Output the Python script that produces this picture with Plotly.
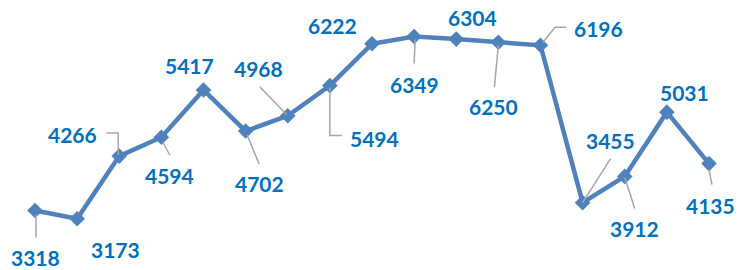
import plotly.graph_objects as go

# ---- data ----
categories = list(range(1, 18))
values = [3318, 3173, 4266, 4594, 5417, 4702, 4968, 5494, 6222,
          6349, 6304, 6250, 6196, 3455, 3912, 5031, 4135]
labels = [str(v) for v in values]

# ---- label placement (pixel offsets from the point: dx right, dy down) ----
label_dx = [0.5, 38, -47, 8, -14.5, 13.5, -29, 45, -39, 0, 16, -5, 58, 28, 10, 18, 2]
label_dy = [46.5, 31, -22, 38, -25, 52, -47, 53, -18, 47.5, -22, 64, -17, -62, 52, -20, 42]

# leader lines: list of pixel offset points (dx, dy-down) or None
leaders = [
    [(1, 4), (1, 27)],
    None,
    [(-13, -23), (-1, -23), (-1, -1)],
    [(1.5, 5), (8.5, 18)],
    None,
    [(1.5, 4), (13.5, 33)],
    [(-28, -29), (-1, -1)],
    [(0, 2), (0, 50), (12, 50)],
    None,
    [(1, 3), (0, 27)],
    None,
    [(0, 3), (-4, 45)],
    [(2.5, -3), (14.5, -18), (25.5, -18)],
    [(0, 0), (28, -44)],
    [(0, 1), (10, 32)],
    None,
    [(0, 6), (3, 21)],
]

LINE_COLOR = "#4F81BD"
LABEL_COLOR = "#0070C0"
LEADER_COLOR = "#A6A6A6"

fig = go.Figure()
fig.add_trace(go.Scatter(
    x=categories, y=values, mode="lines+markers",
    line=dict(color=LINE_COLOR, width=4.5),
    marker=dict(symbol="diamond", size=12, color=LINE_COLOR),
    hoverinfo="skip", showlegend=False,
))

annotations = []
shapes = []
for i, (c, v) in enumerate(zip(categories, values)):
    annotations.append(dict(
        x=c, y=v, xref="x", yref="y", text=labels[i], showarrow=False,
        xshift=label_dx[i], yshift=-label_dy[i],
        font=dict(family="Lato", size=21, color=LABEL_COLOR, weight="bold"),
    ))
    if leaders[i]:
        pts = leaders[i]
        path = "M {} {}".format(pts[0][0], -pts[0][1])
        for px, py in pts[1:]:
            path += " L {} {}".format(px, -py)
        shapes.append(dict(
            type="path", xref="x", yref="y", xsizemode="pixel", ysizemode="pixel",
            xanchor=c, yanchor=v, path=path,
            line=dict(color=LEADER_COLOR, width=1.5), layer="above",
        ))

x_left = categories[0] - 0.831
x_right = categories[-1] + 0.855

fig.update_layout(
    width=745, height=270,
    margin=dict(l=0, r=0, t=0, b=0),
    paper_bgcolor="white", plot_bgcolor="white",
    xaxis=dict(visible=False, range=[x_left, x_right]),
    yaxis=dict(visible=False, range=[2281.5, 6984.8]),
    annotations=annotations, shapes=shapes,
    hovermode=False,
)

fig.write_html("out.html", config={"displayModeBar": False, "staticPlot": True},
               post_script="document.body.style.margin='0';")
